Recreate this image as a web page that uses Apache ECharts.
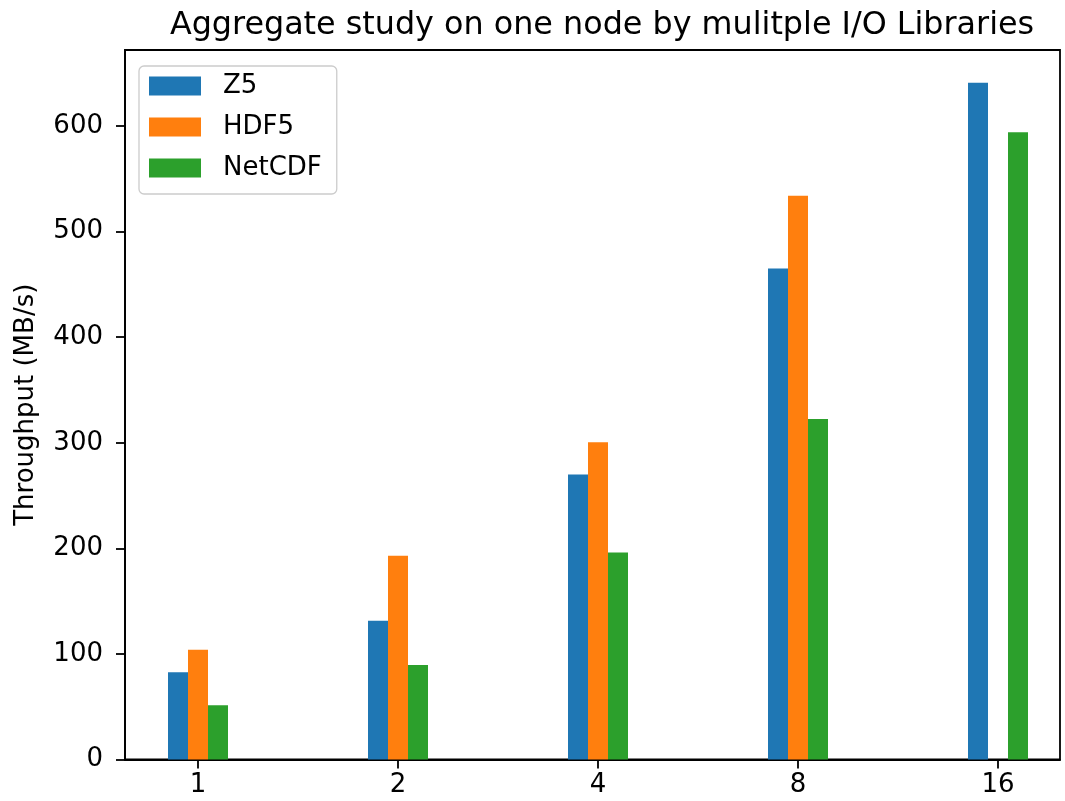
<!DOCTYPE html>
<html>
<head>
<meta charset="utf-8">
<script src="https://cdn.jsdelivr.net/npm/echarts@6/dist/echarts.min.js"></script>
<style>html,body{margin:0;padding:0;background:#fff}#c{width:1065px;height:801px}</style>
</head>
<body>
<div id="c"></div>
<script>
const categories = ['1', '2', '4', '8', '16'];
const seriesNames = ['Z5', 'HDF5', 'NetCDF'];
const z5 = [82.6, 131.5, 270, 465, 641];
const hdf5 = [104, 193, 300.5, 534, null];
const netcdf = [51.3, 89.5, 196, 322.5, 594];
const yTicks = [0, 100, 200, 300, 400, 500, 600];
const colors = ['#1f77b4', '#ff7f0e', '#2ca02c'];

const FONT = 'DejaVu Sans';
const idx = categories.map((c, i) => i);
const groups = [z5, hdf5, netcdf];
const offs = [-0.1, 0, 0.1];

const chart = echarts.init(document.getElementById('c'), null, {renderer: 'canvas'});
chart.setOption({
  backgroundColor: '#fff',
  animation: false,
  textStyle: {fontFamily: FONT},
  title: {
    text: 'Aggregate study on one node by mulitple I/O Libraries',
    left: 597, top: 5, textAlign: 'center',
    textStyle: {fontFamily: FONT, fontSize: 31.8, fontWeight: 'normal', color: '#000'}
  },
  legend: {
    orient: 'vertical', left: 139, top: 66,
    padding: [7, 15, 13, 10],
    itemWidth: 52, itemHeight: 19, itemGap: 15,
    icon: 'rect',
    borderColor: '#cccccc', borderWidth: 1.3, borderRadius: 5,
    backgroundColor: 'rgba(255,255,255,0.8)',
    formatter: name => '{s|}' + name,
    textStyle: {
      fontFamily: FONT, fontSize: 26, color: '#000', lineHeight: 26,
      rich: {s: {width: 17, fontSize: 26, lineHeight: 26}}
    },
    data: seriesNames
  },
  grid: {
    left: 125, right: 5, top: 50, bottom: 41.5,
    show: true, borderColor: '#000', borderWidth: 1.8, containLabel: false
  },
  xAxis: {
    type: 'value', min: -0.365, max: 4.31,
    axisLine: {show: true, onZero: false, lineStyle: {color: '#000', width: 1.8}},
    axisTick: {show: true, length: 9, lineStyle: {color: '#000', width: 1.8}, customValues: idx},
    axisLabel: {
      customValues: idx, margin: 13, fontSize: 26, color: '#000', fontFamily: FONT,
      formatter: v => categories[Math.round(v)] ?? ''
    },
    splitLine: {show: false}
  },
  yAxis: {
    type: 'value', min: 0, max: 672,
    name: 'Throughput (MB/s)', nameLocation: 'middle', nameGap: 86, nameRotate: 90,
    nameTextStyle: {fontFamily: FONT, fontSize: 26, color: '#000'},
    axisLine: {show: true, onZero: false, lineStyle: {color: '#000', width: 1.8}},
    axisTick: {show: true, length: 9, lineStyle: {color: '#000', width: 1.8}, customValues: yTicks},
    axisLabel: {customValues: yTicks, margin: 22, fontSize: 26, color: '#000', fontFamily: FONT},
    splitLine: {show: false}
  },
  series: groups.map((g, s) => ({
    name: seriesNames[s],
    type: 'bar',
    barWidth: 20,
    barGap: '-100%',
    itemStyle: {color: colors[s]},
    data: g.map((v, i) => v == null ? null : [i + offs[s], v])
  }))
});
</script>
</body>
</html>
